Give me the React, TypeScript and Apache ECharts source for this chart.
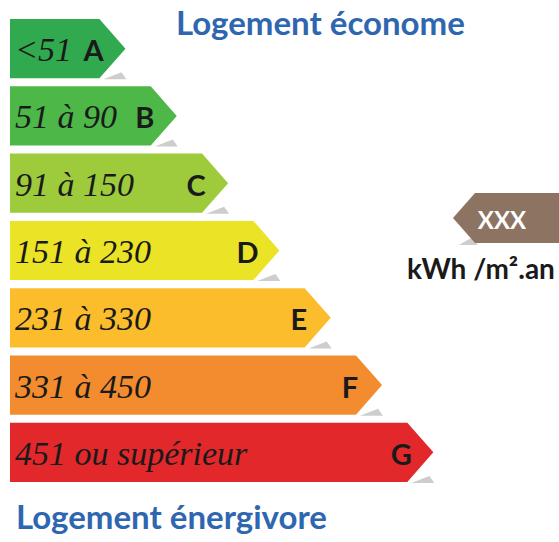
import React, { useEffect, useRef } from "react";
import * as echarts from "echarts";

const categories = ["A", "B", "C", "D", "E", "F", "G"];
const rangeLabels = [
  "<51",
  "51 à 90",
  "91 à 150",
  "151 à 230",
  "231 à 330",
  "331 à 450",
  "451 ou supérieur",
];
const arrowLengths = [1, 2, 3, 4, 5, 6, 7];
const classColors = [
  "#31a94f",
  "#4db748",
  "#9dcb3c",
  "#ebe426",
  "#fbbd2b",
  "#f28c2e",
  "#e2282b",
];
const topTitle = "Logement économe";
const bottomTitle = "Logement énergivore";
const markerValue = "XXX";
const unitLabel = "kWh /m².an";

export default function App() {
  const ref = useRef<HTMLDivElement>(null);
  useEffect(() => {
    if (!ref.current) return;
    const chart = echarts.init(ref.current, undefined, { renderer: "svg" });
    const data = categories.map((c, i) => [arrowLengths[i], i]);
    chart.setOption({
      animation: false,
      grid: { left: 10, right: 23, top: 15, bottom: 56 },
      xAxis: { type: "value", min: -1.25, max: 9, show: false },
      yAxis: { type: "category", data: categories, inverse: true, show: false },
      series: [
        {
          type: "custom",
          encode: { x: 0, y: 1 },
          data,
          renderItem: (params: any, api: any) => {
            const idx = api.value(1);
            const p = api.coord([api.value(0), idx]);
            const band = api.size([0, 1])[1];
            const h = band * 0.88;
            const left = params.coordSys.x;
            const tipW = h * 0.44;
            const top = p[1] - h / 2;
            const bottom = p[1] + h / 2;
            const rectEnd = p[0] - tipW;
            return {
              type: "group",
              children: [
                {
                  type: "polygon",
                  shape: {
                    points: [
                      [rectEnd + 4, bottom + 1],
                      [p[0] + 1, bottom + 1],
                      [p[0] - 4, bottom - 6],
                    ],
                  },
                  style: { fill: "#cdcdcd" },
                },
                {
                  type: "polygon",
                  shape: {
                    points: [
                      [left, top],
                      [rectEnd, top],
                      [p[0], p[1]],
                      [rectEnd, bottom],
                      [left, bottom],
                    ],
                  },
                  style: { fill: classColors[idx] },
                },
                {
                  type: "text",
                  x: left + 5,
                  y: p[1] + 1,
                  style: {
                    text: rangeLabels[idx],
                    fill: "#1a1a1a",
                    font: "italic 34px 'Liberation Serif'",
                    align: "left",
                    verticalAlign: "middle",
                  },
                },
                {
                  type: "text",
                  x: p[0] - 32,
                  y: p[1] + 1,
                  style: {
                    text: categories[idx],
                    fill: "#1a1a1a",
                    font: "bold 29px Lato",
                    align: "center",
                    verticalAlign: "middle",
                  },
                },
              ],
            };
          },
        },
      ],
      graphic: [
        {
          type: "text",
          left: 176,
          top: 5,
          style: {
            text: topTitle,
            fill: "#2f66b0",
            font: "bold 33px Lato",
          },
        },
        {
          type: "text",
          left: 16,
          top: 499,
          style: {
            text: bottomTitle,
            fill: "#2f66b0",
            font: "bold 33px Lato",
          },
        },
        {
          type: "polygon",
          shape: {
            points: [
              [459, 245],
              [478, 245],
              [471, 238],
            ],
          },
          style: { fill: "#cdcdcd" },
        },
        {
          type: "polygon",
          shape: {
            points: [
              [453, 218],
              [475, 193],
              [559, 193],
              [559, 243],
              [475, 243],
            ],
          },
          style: { fill: "#8c7362" },
        },
        {
          type: "text",
          x: 502,
          y: 219,
          style: {
            text: markerValue,
            fill: "#ffffff",
            font: "bold 24px Lato",
            align: "center",
            verticalAlign: "middle",
          },
        },
        {
          type: "text",
          x: 481,
          y: 268,
          style: {
            text: unitLabel,
            fill: "#1a1a1a",
            font: "bold 28px Lato",
            align: "center",
            verticalAlign: "middle",
          },
        },
      ],
    });
    return () => chart.dispose();
  }, []);
  return (
    <div
      ref={ref}
      style={{ position: "absolute", left: 0, top: 0, width: 559, height: 542 }}
    />
  );
}
